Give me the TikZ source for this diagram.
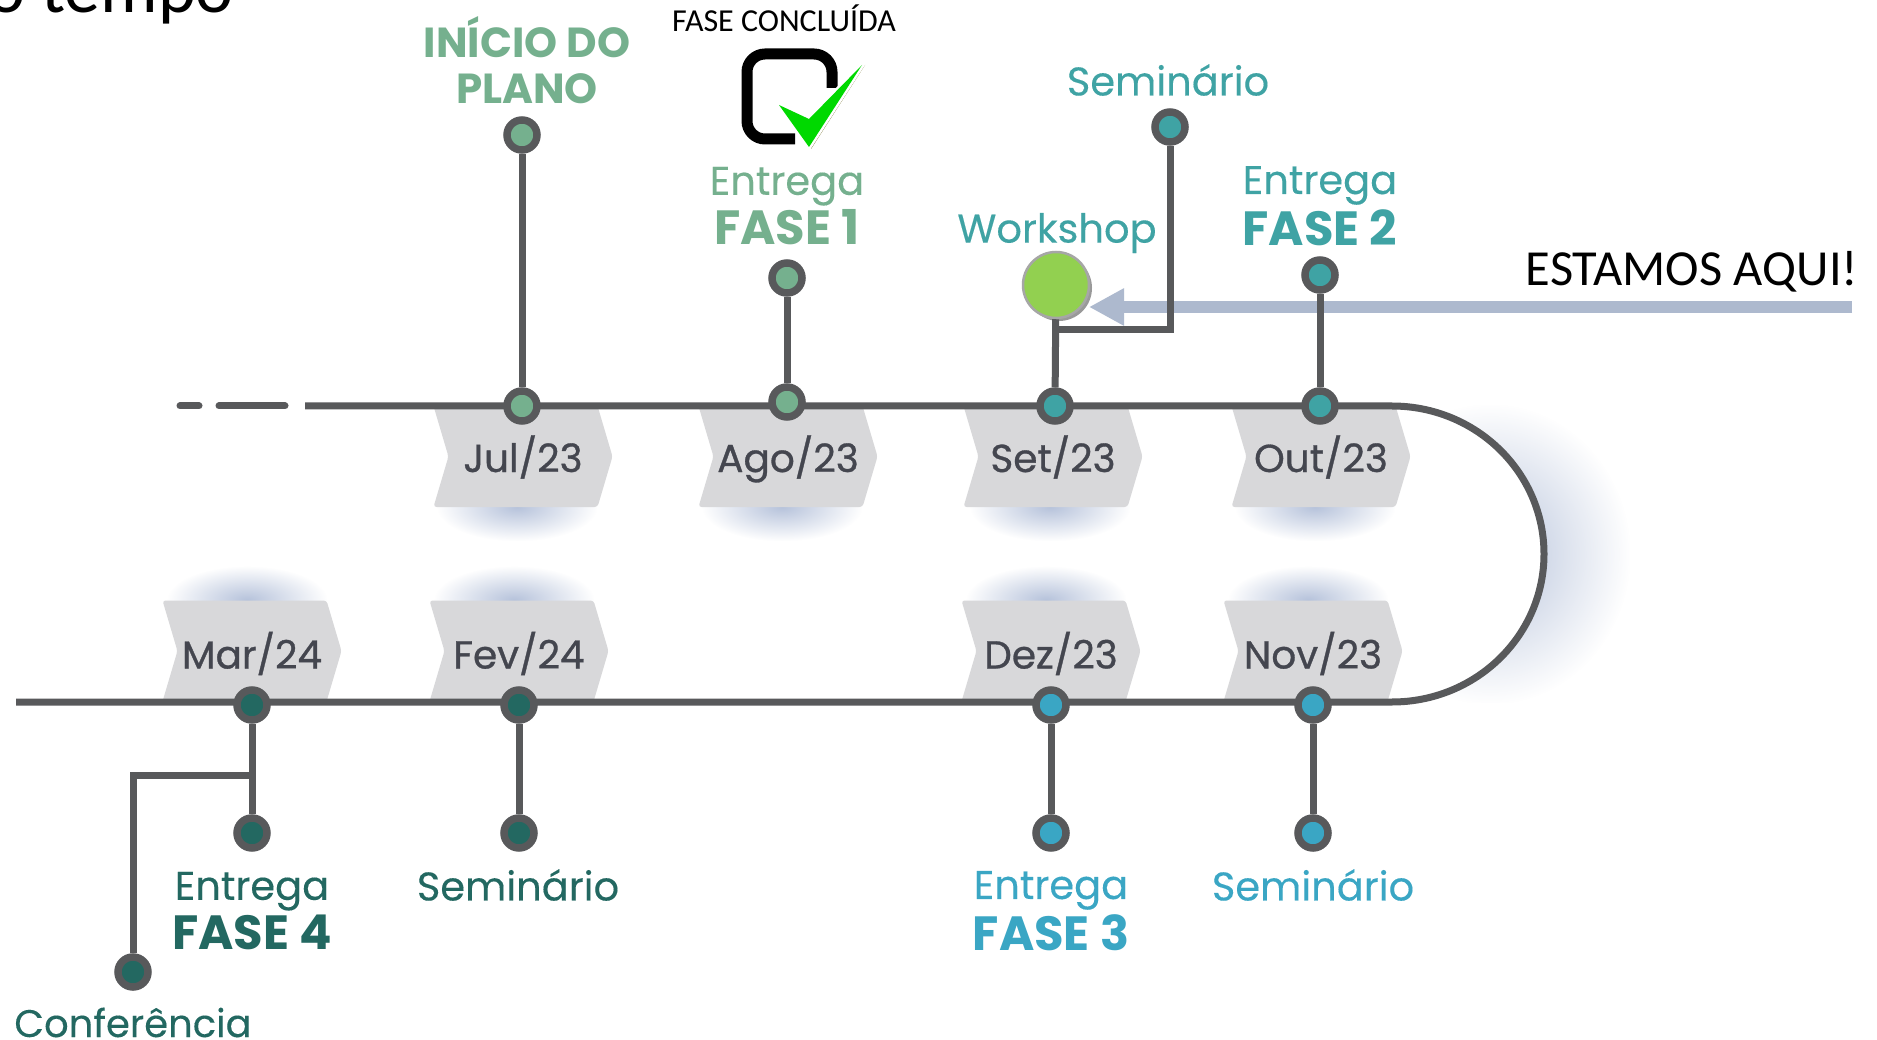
\documentclass[tikz,border=0pt]{standalone}
\usepackage{fontspec}
\usetikzlibrary{arrows.meta,fadings,shadows,shapes.symbols}
\setmainfont{Poppins}[UprightFeatures={FakeBold=0.25}]
\newfontfamily\calibrifont{Carlito}
\newfontfamily\mesfont{Poppins}[FakeBold=0.8]
\definecolor{linha}{HTML}{58595B}
\definecolor{chevron}{HTML}{D8D8DA}
\definecolor{mestexto}{HTML}{44464F}
\definecolor{sombraazul}{HTML}{8FA2C8}
\definecolor{setaazul}{HTML}{ADB9CE}
\definecolor{verdefase}{HTML}{75B08E}
\definecolor{tealfase}{HTML}{3FA3A4}
\definecolor{azulfase}{HTML}{3AA6C4}
\definecolor{escurofase}{HTML}{236861}
\definecolor{agora}{HTML}{92D050}
\tikzfading[name=softglow,inner color=transparent!35,outer color=transparent!100]
\tikzset{
	marco/.style={circle,draw=linha,line width=7.5pt,minimum size=30pt,inner sep=0pt,fill=#1},
	haste/.style={draw=linha,line width=7pt},
	mes/.style={signal,signal to=east,signal from=west,signal pointer angle=147,fill=chevron,rounded corners=3pt,
		minimum width=179pt,minimum height=101pt,inner sep=0pt,text=mestexto,text height=31pt,text depth=0pt,
		font=\mesfont\fontsize{39}{39}\selectfont},
	rotulo/.style={align=center,inner sep=0pt,font=\fontsize{40}{46}\selectfont,text=#1},
	sombra/.style={fill=sombraazul,path fading=softglow},
}
\newcommand\fasefont{\bfseries\fontsize{48}{46}\selectfont}
\begin{document}
\begin{tikzpicture}[x=1pt,y=-1pt]
	\clip(0,0)rectangle(1877,1040);
	\fill[white](0,0)rectangle(1877,1040);
	\node[anchor=base east,inner sep=0pt,font=\calibrifont\fontsize{72}{72}\selectfont](titulo)at(234,13){o tempo};
	% sombras
	\begin{scope}
		\clip(1392,406)rectangle(1640,702);
		\fill[sombra](1350,404)rectangle(1630,704);
		\fill[white](1392,406)arc(-90:90:152 and 148)--cycle;
	\end{scope}
	\fill[sombra](437,473)rectangle(597,541);
	\fill[sombra](702,473)rectangle(862,541);
	\fill[sombra](970,473)rectangle(1130,541);
	\fill[sombra](1235,473)rectangle(1395,541);
	\fill[sombra](167,566)rectangle(327,634);
	\fill[sombra](434,566)rectangle(594,634);
	\fill[sombra](966,566)rectangle(1126,634);
	\fill[sombra](1228,566)rectangle(1388,634);
	% meses
	\node[mes](jul)at(523,456.5){Jul/23};
	\node[mes](ago)at(788,456.5){Ago/23};
	\node[mes](set)at(1053,456.5){Set/23};
	\node[mes](out)at(1321,456.5){Out/23};
	\node[mes,text height=35pt](mar)at(252,651){Mar/24};
	\node[mes,text height=35pt](fev)at(519,651){Fev/24};
	\node[mes,text height=35pt](dez)at(1051,651){Dez/23};
	\node[mes,text height=35pt](nov)at(1313,651){Nov/23};
	% linha do tempo
	\draw[haste,line cap=round](180,406)--(199,406) (219,406)--(285,406);
	\draw[haste](305,406)--(1392,406)arc(-90:90:152 and 148)--(16,702);
	% seta
	\coordinate(setaini)at(1852,307);
	\coordinate(setafim)at(1089,307);
	\draw[setaazul,line width=12pt,-{Triangle[length=35pt,width=35pt]}](setaini)--(setafim);
	% marcos
	\node[marco=verdefase](mjul)at(522,406){};
	\node[marco=verdefase](ijul)at(522,135){};
	\node[marco=verdefase](mago)at(787,402){};
	\node[marco=verdefase](iago)at(787,278){};
	\node[marco=tealfase](mset)at(1055,406){};
	\node[marco=tealfase](isem)at(1170,127){};
	\node[marco=tealfase](mout)at(1320,406){};
	\node[marco=tealfase](iout)at(1320,275){};
	\node[marco=azulfase](mnov)at(1313,705){};
	\node[marco=azulfase](inov)at(1313,833){};
	\node[marco=azulfase](mdez)at(1051,705){};
	\node[marco=azulfase](idez)at(1051,833){};
	\node[marco=escurofase](mfev)at(519,705){};
	\node[marco=escurofase](ifev)at(519,833){};
	\node[marco=escurofase](mmar)at(252,705){};
	\node[marco=escurofase](imar)at(252,833){};
	\node[marco=escurofase](iconf)at(133,972){};
	\node[circle,fill=agora,draw=black!35,line width=2.5pt,minimum size=66pt,inner sep=0pt,
		drop shadow={shadow xshift=3pt,shadow yshift=-3pt,opacity=.4,fill=black}](work)at(1056,285){};
	% hastes
	\coordinate(jsem)at(1056,330);
	\coordinate(jconf)at(252,775);
	\draw[haste](ijul)--(mjul);
	\draw[haste](iago)--(mago);
	\draw[haste](work)--(mset);
	\draw[haste](isem)|-(jsem);
	\draw[haste](iout)--(mout);
	\draw[haste](mnov)--(inov);
	\draw[haste](mdez)--(idez);
	\draw[haste](mfev)--(ifev);
	\draw[haste](mmar)--(imar);
	\draw[haste](iconf)|-(jconf);
	% rotulos
	\node[rotulo=verdefase,font=\fontsize{42}{46}\selectfont](tjul)at(527,60){\textbf{INÍCIO DO}\\\textbf{PLANO}};
	\node[rotulo=verdefase](tago)at(787,206){Entrega\\[4pt]{\fasefont FASE 1}};
	\node[rotulo=tealfase](tsem)at(1168,80){Seminário};
	\node[rotulo=tealfase](twork)at(1057,233){Workshop};
	\node[rotulo=tealfase](tout)at(1320,206){Entrega\\[4pt]{\fasefont FASE 2}};
	\node[rotulo=azulfase](tnov)at(1313,885){Seminário};
	\node[rotulo=azulfase](tdez)at(1051,911){Entrega\\[4pt]{\fasefont FASE 3}};
	\node[rotulo=escurofase](tfev)at(518,885){Seminário};
	\node[rotulo=escurofase](tmar)at(252,911){Entrega\\[4pt]{\fasefont FASE 4}};
	\node[rotulo=escurofase,font=\fontsize{38.5}{46}\selectfont,anchor=base](tconf)at(133,1037){Conferência};
	% fase concluida
	\node[inner sep=0pt,anchor=base,font=\calibrifont\fontsize{32}{32}\selectfont](tconc)at(784,32){FASE CONCLUÍDA};
	\draw[line width=11pt,rounded corners=18pt](832,88)--(832,54)--(747,54)--(747,139)--(795,139);
	\fill[olive!70!black](782,105)--(811,149)--(865,65)--(811,121)--cycle;
	\draw[white,line width=5pt,fill=white](779,105)--(809,147)--(862,65)--(809,119)--cycle;
	\fill[green!85!black](779,105)--(809,147)--(862,65)--(809,119)--cycle;
	% estamos aqui
	\node[inner sep=0pt,anchor=base,font=\calibrifont\fontsize{50.5}{50.5}\selectfont](taqui)at(1692,285.5){ESTAMOS AQUI!};
\end{tikzpicture}
\end{document}
